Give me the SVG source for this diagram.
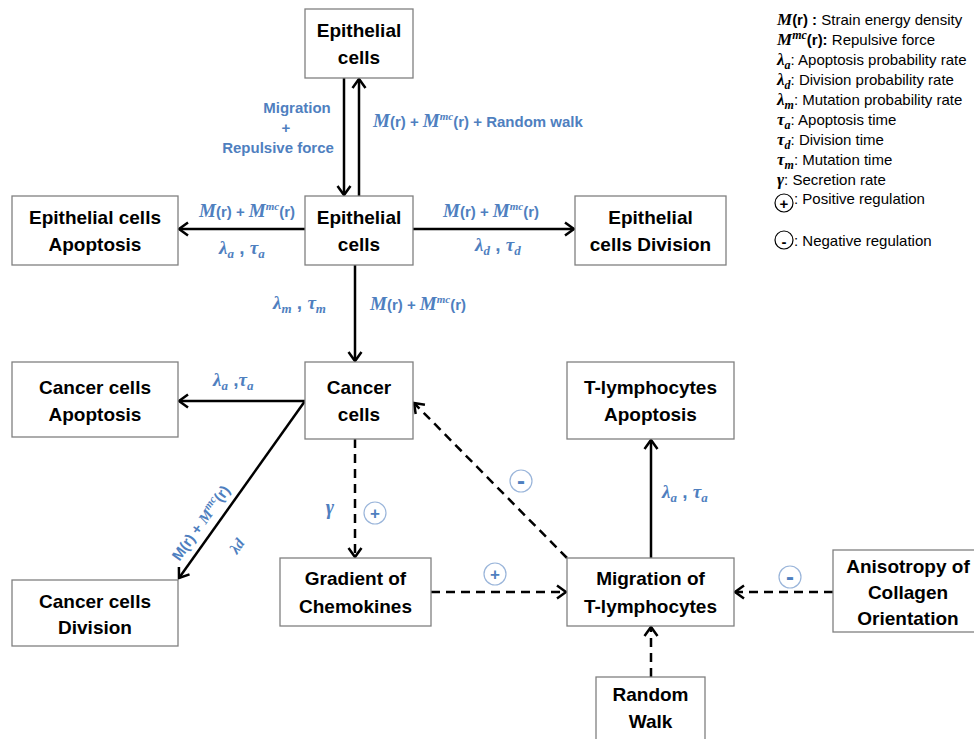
<svg xmlns="http://www.w3.org/2000/svg" width="974" height="739" viewBox="0 0 974 739">
<style>
.box{fill:#fff;stroke:#808080;stroke-width:1.3}
.nt{font-family:"Liberation Sans",Arial,sans-serif;font-weight:bold;font-size:19px;fill:#000;text-anchor:middle}
.lbl{font-family:"Liberation Sans",Arial,sans-serif;font-weight:bold;font-size:15px;fill:#4f7fbf}
.mi{font-family:"Liberation Serif","Times New Roman",serif;font-style:italic;font-weight:bold}
.g{font-size:19px}
.sm{font-size:11px}
.sb{font-size:13px}
.leg{font-family:"Liberation Sans",Arial,sans-serif;font-size:15px;fill:#000}
.lm{font-family:"Liberation Serif","Times New Roman",serif;font-style:italic;font-weight:bold}
.lg{font-size:17px}
.ls{font-size:12px}
.ln{fill:none;stroke:#000;stroke-width:2.5}
.ds{stroke-dasharray:9 6}
.rc{fill:#fff;stroke:#9ab5da;stroke-width:1.2}
.rs{font-family:"Liberation Sans",Arial,sans-serif;font-weight:bold;font-size:17px;fill:#4f7fbf;text-anchor:middle}
.rm{font-family:"Liberation Sans",Arial,sans-serif;font-weight:bold;font-size:24px;fill:#4f7fbf;text-anchor:middle}
</style>
<defs>
<marker id="ah" markerUnits="userSpaceOnUse" markerWidth="14" markerHeight="18" refX="11" refY="8" orient="auto">
<path d="M2,1.5 L11,8 L2,14.5" fill="none" stroke="#000" stroke-width="2.5"/>
</marker>
</defs>

<g id="connectors">
<line class="ln" x1="344" y1="78" x2="344" y2="195" marker-end="url(#ah)"/>
<line class="ln" x1="359" y1="196" x2="359" y2="79" marker-end="url(#ah)"/>
<line class="ln" x1="305" y1="229" x2="179" y2="229" marker-end="url(#ah)"/>
<line class="ln" x1="413" y1="229" x2="574" y2="229" marker-end="url(#ah)"/>
<line class="ln" x1="355" y1="265" x2="355" y2="361" marker-end="url(#ah)"/>
<line class="ln" x1="305" y1="401" x2="179" y2="401" marker-end="url(#ah)"/>
<line class="ln" x1="305" y1="401" x2="179" y2="578" marker-end="url(#ah)"/>
<line class="ln ds" x1="355" y1="439" x2="355" y2="557" marker-end="url(#ah)"/>
<line class="ln ds" x1="567" y1="558" x2="414" y2="403" marker-end="url(#ah)"/>
<line class="ln ds" x1="431" y1="592" x2="566" y2="592" marker-end="url(#ah)"/>
<line class="ln" x1="651" y1="558" x2="651" y2="440" marker-end="url(#ah)"/>
<line class="ln ds" x1="833" y1="592" x2="735" y2="592" marker-end="url(#ah)"/>
<line class="ln ds" x1="651" y1="677" x2="651" y2="627" marker-end="url(#ah)"/>
</g>

<g id="epi-top"><rect class="box" x="305" y="9" width="108" height="69"/><text class="nt" x="359" y="37">Epithelial</text><text class="nt" x="359" y="64">cells</text></g>
<g id="epi"><rect class="box" x="305" y="196" width="108" height="69"/><text class="nt" x="359" y="224">Epithelial</text><text class="nt" x="359" y="251">cells</text></g>
<g id="epi-apop"><rect class="box" x="12" y="196" width="166" height="69"/><text class="nt" x="95" y="224">Epithelial cells</text><text class="nt" x="95" y="251">Apoptosis</text></g>
<g id="epi-div"><rect class="box" x="575" y="196" width="151" height="69"/><text class="nt" x="650.5" y="224">Epithelial</text><text class="nt" x="650.5" y="251">cells Division</text></g>
<g id="cancer"><rect class="box" x="305" y="362" width="108" height="77"/><text class="nt" x="359" y="394">Cancer</text><text class="nt" x="359" y="421">cells</text></g>
<g id="cancer-apop"><rect class="box" x="12" y="362" width="166" height="75"/><text class="nt" x="95" y="394">Cancer cells</text><text class="nt" x="95" y="421">Apoptosis</text></g>
<g id="cancer-div"><rect class="box" x="12" y="580" width="166" height="66"/><text class="nt" x="95" y="608">Cancer cells</text><text class="nt" x="95" y="634">Division</text></g>
<g id="gradient"><rect class="box" x="280" y="558" width="151" height="68"/><text class="nt" x="355.5" y="585">Gradient of</text><text class="nt" x="355.5" y="613">Chemokines</text></g>
<g id="t-apop"><rect class="box" x="567" y="362" width="167" height="77"/><text class="nt" x="650.5" y="394">T-lymphocytes</text><text class="nt" x="650.5" y="421">Apoptosis</text></g>
<g id="migration"><rect class="box" x="567" y="558" width="167" height="68"/><text class="nt" x="650.5" y="585">Migration of</text><text class="nt" x="650.5" y="613">T-lymphocytes</text></g>
<g id="anisotropy"><rect class="box" x="833" y="550" width="160" height="82"/><text class="nt" x="908" y="573">Anisotropy of</text><text class="nt" x="908" y="599">Collagen</text><text class="nt" x="908" y="625">Orientation</text></g>
<g id="random-walk"><rect class="box" x="596" y="677" width="109" height="70"/><text class="nt" x="650.5" y="701">Random</text><text class="nt" x="650.5" y="728">Walk</text></g>

<g id="labels">
<text class="lbl" x="297" y="113" text-anchor="middle">Migration</text>
<text class="lbl" x="286" y="133" text-anchor="middle">+</text>
<text class="lbl" x="278" y="153" text-anchor="middle">Repulsive force</text>
<text class="lbl" x="373" y="127"><tspan class="mi g">M</tspan>(r) + <tspan class="mi g">M</tspan><tspan class="mi sm" dy="-7">mc</tspan><tspan dy="7">(r) + Random walk</tspan></text>
<text class="lbl" x="199" y="217"><tspan class="mi g">M</tspan>(r) + <tspan class="mi g">M</tspan><tspan class="mi sm" dy="-7">mc</tspan><tspan dy="7">(r)</tspan></text>
<text class="lbl" x="219" y="254"><tspan class="mi g">λ</tspan><tspan class="mi sb" dy="4">a</tspan><tspan dy="-4" class="g"> , </tspan><tspan class="mi g">τ</tspan><tspan class="mi sb" dy="4">a</tspan></text>
<text class="lbl" x="443" y="217"><tspan class="mi g">M</tspan>(r) + <tspan class="mi g">M</tspan><tspan class="mi sm" dy="-7">mc</tspan><tspan dy="7">(r)</tspan></text>
<text class="lbl" x="475" y="251"><tspan class="mi g">λ</tspan><tspan class="mi sb" dy="4">d</tspan><tspan dy="-4" class="g"> , </tspan><tspan class="mi g">τ</tspan><tspan class="mi sb" dy="4">d</tspan></text>
<text class="lbl" x="273" y="309"><tspan class="mi g">λ</tspan><tspan class="mi sb" dy="4">m</tspan><tspan dy="-4" class="g"> , </tspan><tspan class="mi g">τ</tspan><tspan class="mi sb" dy="4">m</tspan></text>
<text class="lbl" x="370" y="310"><tspan class="mi g">M</tspan>(r) + <tspan class="mi g">M</tspan><tspan class="mi sm" dy="-7">mc</tspan><tspan dy="7">(r)</tspan></text>
<text class="lbl" x="213" y="386"><tspan class="mi g">λ</tspan><tspan class="mi sb" dy="4">a</tspan><tspan dy="-4" class="g"> ,</tspan><tspan class="mi g">τ</tspan><tspan class="mi sb" dy="4">a</tspan></text>
<text class="lbl" x="0" y="0" text-anchor="middle" font-size="15" transform="translate(205,526) rotate(-54.5)"><tspan>M(r) + </tspan><tspan class="mi">M</tspan><tspan class="mi sm" dy="-6">mc</tspan><tspan dy="6">(r)</tspan></text>
<text class="lbl" x="0" y="0" text-anchor="middle" font-size="18" transform="translate(241,549) rotate(-54.5)"><tspan class="mi">λ</tspan><tspan class="mi">d</tspan></text>
<text class="lbl" x="330" y="514" text-anchor="middle"><tspan class="mi" font-weight="normal" font-size="20">γ</tspan></text>
<text class="lbl" x="662" y="498"><tspan class="mi g">λ</tspan><tspan class="mi sb" dy="4">a</tspan><tspan dy="-4" class="g"> , </tspan><tspan class="mi g">τ</tspan><tspan class="mi sb" dy="4">a</tspan></text>
</g>

<g id="reg-marks">
<circle class="rc" cx="375" cy="513" r="11"/><text class="rs" x="375" y="519">+</text>
<circle class="rc" cx="521" cy="481" r="11"/><text class="rm" x="521" y="489">-</text>
<circle class="rc" cx="495" cy="574" r="11"/><text class="rs" x="495" y="580">+</text>
<circle class="rc" cx="790" cy="577" r="11"/><text class="rm" x="790" y="585">-</text>
</g>

<g id="legend">
<text class="leg" x="777" y="25"><tspan class="lm lg">M</tspan><tspan font-weight="bold">(r) :</tspan> Strain energy density</text>
<text class="leg" x="777" y="45"><tspan class="lm lg">M</tspan><tspan class="lm ls" dy="-6">mc</tspan><tspan font-weight="bold" dy="6">(r):</tspan> Repulsive force</text>
<text class="leg" x="777" y="65"><tspan class="lm lg">λ</tspan><tspan class="lm ls" dy="4">a</tspan><tspan dy="-4">: Apoptosis probability rate</tspan></text>
<text class="leg" x="777" y="85"><tspan class="lm lg">λ</tspan><tspan class="lm ls" dy="4">d</tspan><tspan dy="-4">: Division probability rate</tspan></text>
<text class="leg" x="777" y="105"><tspan class="lm lg">λ</tspan><tspan class="lm ls" dy="4">m</tspan><tspan dy="-4">: Mutation probability rate</tspan></text>
<text class="leg" x="777" y="125"><tspan class="lm lg">τ</tspan><tspan class="lm ls" dy="4">a</tspan><tspan dy="-4">: Apoptosis time</tspan></text>
<text class="leg" x="777" y="145"><tspan class="lm lg">τ</tspan><tspan class="lm ls" dy="4">d</tspan><tspan dy="-4">: Division time</tspan></text>
<text class="leg" x="777" y="165"><tspan class="lm lg">τ</tspan><tspan class="lm ls" dy="4">m</tspan><tspan dy="-4">: Mutation time</tspan></text>
<text class="leg" x="777" y="185"><tspan class="lm lg" font-weight="normal">γ</tspan>: Secretion rate</text>
<circle cx="784" cy="203" r="9" fill="#fff" stroke="#000" stroke-width="1.2"/>
<text class="leg" x="784" y="208.5" text-anchor="middle" font-weight="bold" font-size="16">+</text>
<text class="leg" x="794" y="204">: Positive regulation</text>
<circle cx="784" cy="240" r="9" fill="#fff" stroke="#000" stroke-width="1.2"/>
<text class="leg" x="784" y="247" text-anchor="middle" font-weight="bold" font-size="22">-</text>
<text class="leg" x="794" y="246">: Negative regulation</text>
</g>
</svg>
